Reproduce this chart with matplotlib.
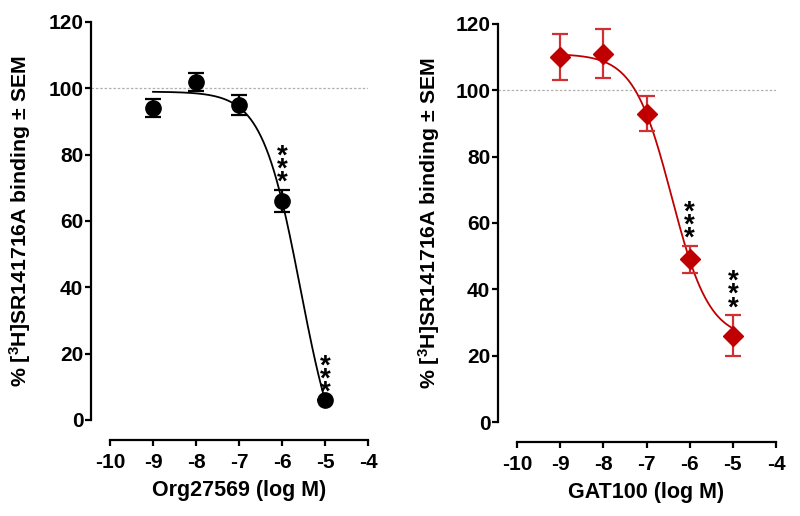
"""Curvas de desplazamiento de [3H]SR141716A para Org27569 y GAT100."""
import matplotlib
matplotlib.use("Agg")
import matplotlib.pyplot as plt
import numpy as np

plt.rcParams["font.family"] = ["Liberation Sans", "DejaVu Sans"]
plt.rcParams["font.weight"] = "bold"
plt.rcParams["mathtext.fontset"] = "custom"
plt.rcParams["mathtext.rm"] = "Liberation Sans:bold"
plt.rcParams["mathtext.default"] = "rm"
plt.rcParams["axes.unicode_minus"] = False

# --- datos ---
log_conc = [-9, -8, -7, -6, -5]

org_mean = [94, 102, 95, 66, 6]
org_sem = [2.7, 2.7, 3.0, 3.3, 0.0]
org_signif = [-6, -5]
# ajuste sigmoide (top, bottom, logIC50, hill)
org_fit = (99.0, -20.0, -5.57, 0.97)

gat_mean = [110, 111, 93, 49, 26]
gat_sem = [6.9, 7.4, 5.4, 4.1, 6.2]
gat_signif = [-6, -5]
gat_fit = (111.0, 25.0, -6.42, 0.99)

x_ticks = [-10, -9, -8, -7, -6, -5, -4]
y_ticks = [0, 20, 40, 60, 80, 100, 120]
y_label = "% [$^{3}$H]SR141716A binding \u00b1 SEM"

RED = "#c00000"
RED_ERR = "#d03034"


def sigmoid(x, top, bottom, logic50, hill):
    return bottom + (top - bottom) / (1 + 10 ** ((x - logic50) * hill))


def style_axes(ax, xlabel, ylab_x):
    ax.set_xlim(-10.442, -4)
    ax.set_ylim(-6.03, 120)
    for s in ("top", "right"):
        ax.spines[s].set_visible(False)
    ax.spines["left"].set_bounds(0, 120)
    ax.spines["bottom"].set_bounds(-10, -4)
    for s in ("left", "bottom"):
        ax.spines[s].set_linewidth(1.6)
    ax.set_xticks(x_ticks)
    ax.set_yticks(y_ticks)
    ax.tick_params(direction="out", length=4, width=1.6, labelsize=15)
    ax.tick_params(axis="x", pad=5.5)
    ax.tick_params(axis="y", pad=1.5)
    ax.set_xlabel(xlabel, fontsize=15.5, fontweight="bold")
    ax.set_ylabel(y_label, fontsize=15.3, fontweight="bold")
    ax.xaxis.set_label_coords(0.534, -0.095)
    ax.yaxis.set_label_coords(ylab_x, 0.524)
    ax.axhline(100, color="#b0b0b0", lw=0.9, ls=(0, (2, 1.5)), zorder=0)


def stars(ax, xs, means, sems, xs_sig, gap):
    for xv in xs_sig:
        i = xs.index(xv)
        ax.text(xv, means[i] + sems[i] + gap, "*\n*\n*", ha="center",
                va="bottom", fontsize=20, linespacing=0.36, color="black")


fig = plt.figure(figsize=(8, 5.16), dpi=100)
ax1 = fig.add_axes([0.11375, 0.1473, 0.34625, 0.8101])
ax2 = fig.add_axes([0.6225, 0.1434, 0.3475, 0.8101])

xs = np.linspace(-9, -5, 200)

ax1.plot(xs, sigmoid(xs, *org_fit), color="black", lw=1.3)
ax1.errorbar(log_conc, org_mean, yerr=org_sem, fmt="o", color="black",
             ms=11, capsize=6, elinewidth=1.6, capthick=1.6)
stars(ax1, log_conc, org_mean, org_sem, org_signif, gap=-1.8)
style_axes(ax1, "Org27569 (log M)", -0.209)

ax2.plot(xs, sigmoid(xs, *gat_fit), color=RED, lw=1.3)
ax2.errorbar(log_conc, gat_mean, yerr=gat_sem, fmt="D", color=RED,
             ecolor=RED_ERR, ms=10, capsize=5.5, elinewidth=1.6, capthick=1.6)
stars(ax2, log_conc, gat_mean, gat_sem, gat_signif, gap=-1.8)
style_axes(ax2, "GAT100 (log M)", -0.201)

fig.savefig("out.png", dpi=100)
